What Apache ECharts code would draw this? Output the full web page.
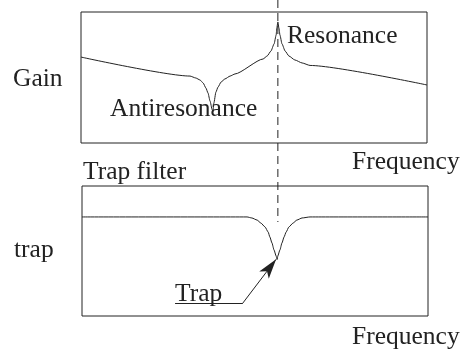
<!DOCTYPE html>
<html>
<head>
<meta charset="utf-8">
<script src="https://cdn.jsdelivr.net/npm/echarts@6/dist/echarts.min.js"></script>
<style>
  html, body { margin: 0; padding: 0; background: #fff; }
  #main { width: 463px; height: 354px; }
</style>
</head>
<body>
<div id="main"></div>
<script>
// upper plot: gain vs frequency (resonance / antiresonance)
var resFreq = [0, 31.5, 33.2, 34.4, 35.3, 36.1, 36.7, 37.3, 37.9, 38.1, 38.4, 39.0, 39.6, 40.5, 41.6, 43.1, 44.5,
               52.6, 53.8, 54.9, 55.8, 56.4, 56.6, 56.9, 57.2, 57.5, 58.1, 59.0, 60.1, 61.8, 63.9, 66.2, 100];
var resGain = [65.6, 51.1, 49.6, 48.1, 45.8, 42.0, 38.2, 32.0, 25.5, 24.0, 30.5, 38.9, 42.7, 46.6, 48.9, 51.1, 52.7,
               64.1, 66.4, 70.2, 75.6, 82.4, 87.8, 92.4, 87.8, 82.4, 75.6, 70.2, 66.4, 63.4, 61.1, 59.2, 44.3];

// lower plot: trap filter response
var trapFreq = [0, 47.7, 49.1, 50.6, 51.7, 52.9, 53.8, 54.3, 54.9, 55.5, 56.1, 56.4,
                56.6, 57.2, 57.8, 58.4, 59.0, 59.8, 61.0, 62.1, 63.6, 65.9, 100];
var trapGain = [76.2, 76.2, 75.4, 73.8, 71.5, 68.5, 64.6, 60.8, 56.2, 50.8, 46.2, 43.5,
                46.2, 50.8, 56.2, 60.8, 64.6, 68.5, 71.5, 73.8, 75.4, 76.2, 76.2];

// resonance frequency (dashed marker) and the "Trap" pointer
var resonanceFreq = 56.9;
var pointerFreq = [26.9, 46.5, 56.1];
var pointerGain = [10, 10, 43.6];

function zip(xs, ys) {
  return xs.map(function (x, i) { return [x, ys[i]]; });
}

var ink = '#222';
var txt = '#222';
var font = '"Liberation Serif", "Times New Roman", serif';

function label(text, left, top) {
  return {
    type: 'text', left: left, top: top,
    style: { text: text, font: '25.5px ' + font, fill: txt }
  };
}

var chart = echarts.init(document.getElementById('main'));

var option = {
  animation: false,
  backgroundColor: '#fff',
  grid: [
    { left: 81, top: 12, width: 346, height: 131, show: true, borderColor: ink, borderWidth: 1, backgroundColor: 'transparent' },
    { left: 82, top: 186, width: 346, height: 130, show: true, borderColor: ink, borderWidth: 1, backgroundColor: 'transparent' },
    { left: 81, top: 0, width: 346, height: 222, show: false }
  ],
  xAxis: [0, 1, 2].map(function (i) {
    return { type: 'value', gridIndex: i, min: 0, max: 100, show: false };
  }),
  yAxis: [0, 1, 2].map(function (i) {
    return { type: 'value', gridIndex: i, min: 0, max: 100, show: false };
  }),
  series: [
    {
      type: 'line', xAxisIndex: 0, yAxisIndex: 0,
      data: zip(resFreq, resGain),
      showSymbol: false, smooth: 0.2, smoothMonotone: 'x',
      lineStyle: { color: ink, width: 1 }
    },
    {
      type: 'line', xAxisIndex: 1, yAxisIndex: 1,
      data: zip(trapFreq, trapGain),
      showSymbol: false, smooth: 0.2, smoothMonotone: 'x',
      lineStyle: { color: ink, width: 1 },
      markLine: {
        silent: true,
        symbolSize: [9, 20],
        label: { show: false },
        lineStyle: { color: ink, width: 1, type: 'solid' },
        data: [
          [
            { coord: [pointerFreq[0], pointerGain[0]], symbol: 'none' },
            { coord: [pointerFreq[1], pointerGain[1]], symbol: 'none' }
          ],
          [
            { coord: [pointerFreq[1], pointerGain[1]], symbol: 'none' },
            { coord: [pointerFreq[2], pointerGain[2]], symbol: 'arrow' }
          ]
        ]
      }
    },
    {
      type: 'line', xAxisIndex: 2, yAxisIndex: 2,
      data: [[resonanceFreq, 100], [resonanceFreq, 0]],
      showSymbol: false,
      lineStyle: { color: ink, width: 1, type: [8, 5] }
    }
  ],
  graphic: [
    label('Resonance', 287, 23),
    label('Gain', 13, 66),
    label('Antiresonance', 110, 96),
    label('Frequency', 352, 149),
    label('Trap filter', 83, 159),
    label('trap', 14, 237),
    label('Trap', 175, 281),
    label('Frequency', 352, 324)
  ]
};

chart.setOption(option);
</script>
</body>
</html>
